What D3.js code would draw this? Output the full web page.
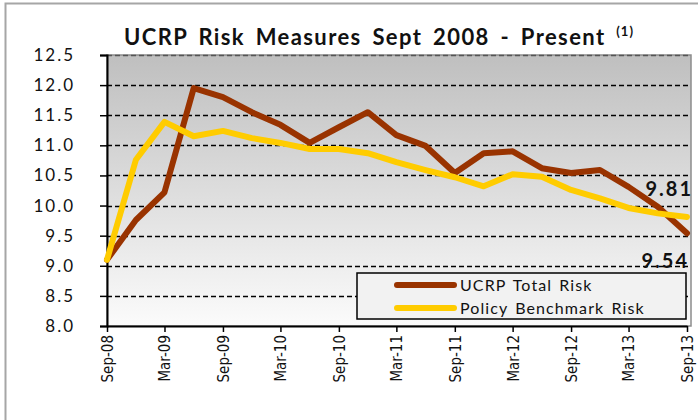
<!DOCTYPE html>
<html>
<head>
<meta charset="utf-8">
<script src="https://cdn.jsdelivr.net/npm/d3@7"></script>
<style>
  body { margin: 0; background: #fff; }
  svg { display: block; }
</style>
</head>
<body>
<svg id="chart" width="698" height="420"></svg>
<script>
// quarterly readings, Sep-08 .. Sep-13
var quarters = ["2008-09", "2008-12", "2009-03", "2009-06", "2009-09", "2009-12", "2010-03",
  "2010-06", "2010-09", "2010-12", "2011-03", "2011-06", "2011-09", "2011-12", "2012-03",
  "2012-06", "2012-09", "2012-12", "2013-03", "2013-06", "2013-09"];
var totalRisk = [9.10, 9.76, 10.22, 11.95, 11.80, 11.55, 11.34, 11.04, 11.30, 11.55, 11.17,
  10.99, 10.54, 10.87, 10.90, 10.62, 10.54, 10.59, 10.31, 9.98, 9.54];
var benchmarkRisk = [9.10, 10.76, 11.39, 11.15, 11.24, 11.12, 11.04, 10.94, 10.94, 10.87, 10.72,
  10.59, 10.47, 10.32, 10.52, 10.48, 10.26, 10.12, 9.96, 9.87, 9.81];
var seriesNames = ["UCRP Total Risk", "Policy Benchmark Risk"];
var yTicks = [8.0, 8.5, 9.0, 9.5, 10.0, 10.5, 11.0, 11.5, 12.0, 12.5];

var colors = ["#993300", "#ffcc00"];
var parseQ = d3.timeParse("%Y-%m");
var dates = quarters.map(parseQ);
var xTicks = dates.filter(function(d, i) { return i % 2 == 0; });

var svg = d3.select("#chart");
var mLeft = 107, mRight = 687, mTop = 55, mBottom = 326;

var x = d3.scaleTime().domain([dates[0], dates[dates.length - 1]]).range([mLeft, mRight]);
var y = d3.scaleLinear().domain([8, 12.5]).range([mBottom, mTop]);

// outer frame
svg.append("rect").attr("x", 5.5).attr("y", 3.5).attr("width", 720).attr("height", 440)
  .attr("fill", "#fff").attr("stroke", "#a6a6a6").attr("stroke-width", 2);

// plot background gradient
var grad = svg.append("defs").append("linearGradient").attr("id", "bg")
  .attr("x1", 0).attr("y1", 0).attr("x2", 0).attr("y2", 1);
grad.append("stop").attr("offset", "0%").attr("stop-color", "#bfbfbf");
grad.append("stop").attr("offset", "100%").attr("stop-color", "#fbfbfb");

svg.append("rect").attr("x", mLeft).attr("y", mTop).attr("width", 691 - mLeft).attr("height", mBottom - mTop)
  .attr("fill", "url(#bg)").attr("stroke", "#8c8c8c").attr("stroke-width", 1.5);

// grid
svg.append("g").selectAll("line").data(yTicks.filter(function(d) { return d > 8; }))
  .enter().append("line")
  .attr("x1", mLeft).attr("x2", 690)
  .attr("y1", function(d) { return Math.round(y(d)) + 0.5; })
  .attr("y2", function(d) { return Math.round(y(d)) + 0.5; })
  .attr("stroke", function(d) { return d == 12.5 ? "#555" : "#000"; })
  .attr("stroke-width", 1.3)
  .attr("stroke-dasharray", "5,3");

// y axis
var yAxis = svg.append("g").attr("transform", "translate(" + mLeft + ",0)")
  .call(d3.axisLeft(y).tickValues(yTicks).tickFormat(d3.format(".1f")).tickSize(7).tickPadding(25));
yAxis.select(".domain").attr("stroke", "#000").attr("stroke-width", 2);
yAxis.selectAll(".tick line").attr("stroke", "#000").attr("stroke-width", 1.5);
yAxis.selectAll("text").attr("font-family", "Lato, 'Open Sans', sans-serif")
  .attr("font-size", 17).attr("fill", "#111").attr("letter-spacing", "2px");

// x axis
var xAxis = svg.append("g").attr("transform", "translate(0," + mBottom + ")")
  .call(d3.axisBottom(x).tickValues(xTicks)
    .tickFormat(d3.timeFormat("%b-%y")).tickSize(6).tickSizeOuter(0));
xAxis.select(".domain").attr("stroke", "#000").attr("stroke-width", 2);
xAxis.selectAll(".tick line").attr("stroke", "#000").attr("stroke-width", 1.5);
xAxis.selectAll("text")
  .attr("transform", "rotate(-90)")
  .attr("text-anchor", "end")
  .attr("x", -9).attr("y", 0).attr("dy", "0.36em")
  .attr("font-family", "'Liberation Sans Narrow', 'DejaVu Sans Condensed', sans-serif")
  .attr("font-stretch", "condensed")
  .attr("font-size", 15).attr("font-weight", 500).attr("fill", "#111");

// lines
var line = d3.line().x(function(d, i) { return x(dates[i]); }).y(function(d) { return y(d); });
[totalRisk, benchmarkRisk].forEach(function(s, k) {
  svg.append("path").datum(s).attr("d", line)
    .attr("fill", "none").attr("stroke", colors[k]).attr("stroke-width", 6)
    .attr("stroke-linejoin", "round").attr("stroke-linecap", "round");
});

// end labels
svg.append("text").attr("x", 693).attr("y", 196).attr("text-anchor", "end")
  .attr("font-family", "Lato, sans-serif").attr("font-weight", "bold").attr("font-size", 20)
  .attr("letter-spacing", "2px").attr("fill", "#111").text(d3.format(".2f")(benchmarkRisk[20]));
svg.append("text").attr("x", 689).attr("y", 268).attr("text-anchor", "end")
  .attr("font-family", "Lato, sans-serif").attr("font-weight", "bold").attr("font-size", 20)
  .attr("letter-spacing", "2px").attr("fill", "#111").text(d3.format(".2f")(totalRisk[20]));

// legend
var lg = svg.append("g").attr("transform", "translate(357,273)");
lg.append("rect").attr("width", 329).attr("height", 46)
  .attr("fill", "#f2f2f2").attr("stroke", "#000").attr("stroke-width", 1.5);
seriesNames.forEach(function(n, k) {
  var yy = 12 + k * 23;
  lg.append("line").attr("x1", 40).attr("x2", 97).attr("y1", yy).attr("y2", yy)
    .attr("stroke", colors[k]).attr("stroke-width", 6).attr("stroke-linecap", "round");
  lg.append("text").attr("x", 103).attr("y", yy).attr("dy", "0.36em")
    .attr("font-family", "Lato, sans-serif").attr("font-size", 16).attr("fill", "#111")
    .attr("letter-spacing", "1.1px").attr("word-spacing", "2px").text(n);
});

// title
var title = svg.append("text").attr("y", 45)
  .attr("font-family", "Lato, sans-serif").attr("font-weight", "bold").attr("font-size", 22)
  .attr("letter-spacing", "1.4px").attr("word-spacing", "4px").attr("fill", "#111");
title.append("tspan").attr("x", 124).text("UCRP Risk Measures Sept 2008 - Present ");
title.append("tspan").attr("dy", -9).attr("font-size", 13).attr("letter-spacing", "1px").text("(1)");
</script>
</body>
</html>
